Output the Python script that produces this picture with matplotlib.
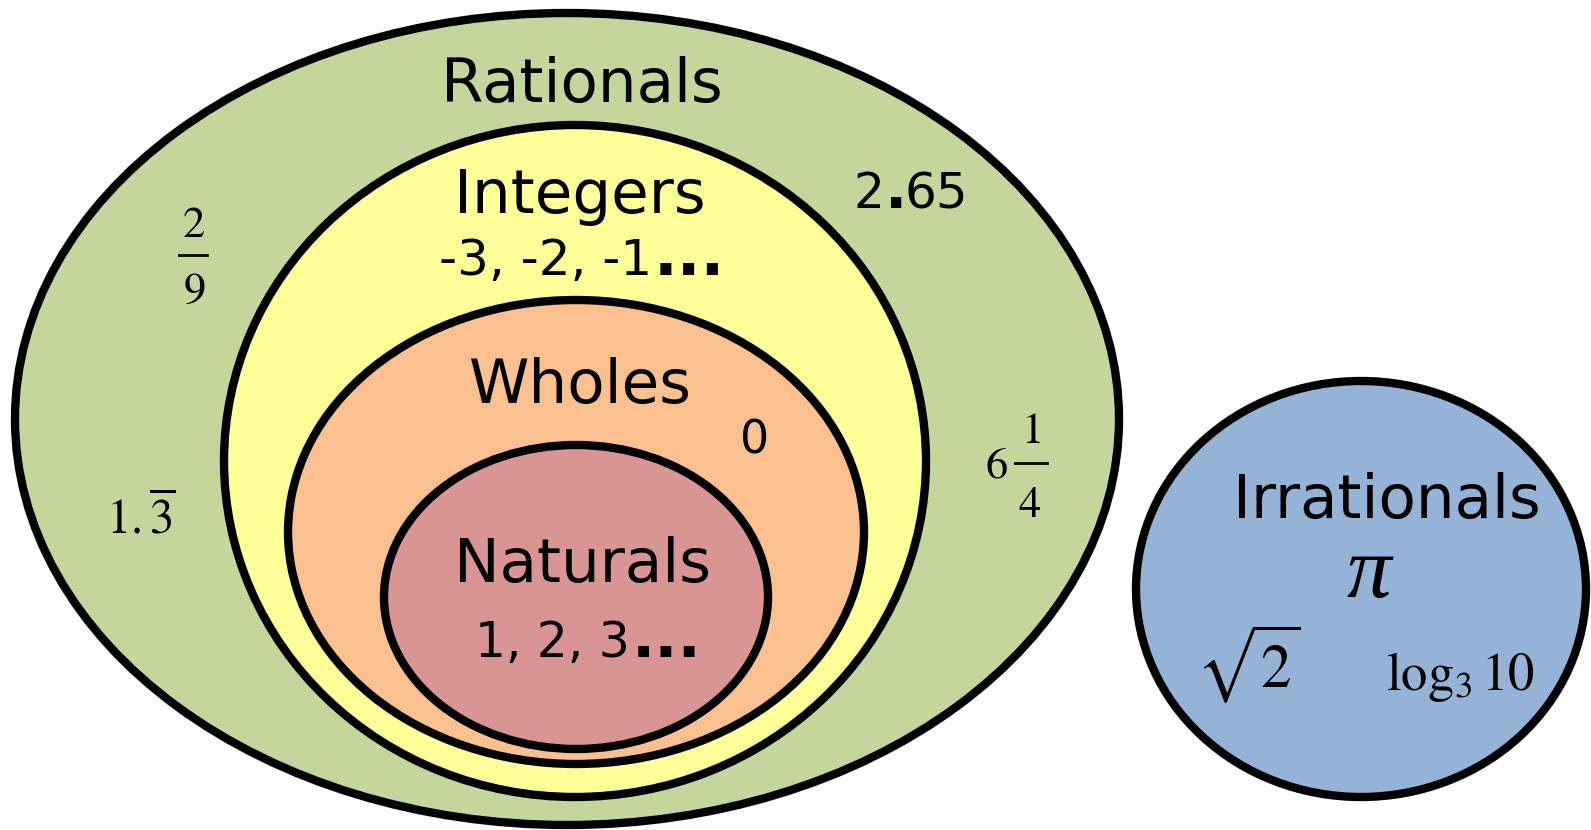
import matplotlib
matplotlib.use("Agg")
import matplotlib.pyplot as plt
from matplotlib.patches import Ellipse

# sets, drawn outermost first
set_names = ["Rationals", "Integers", "Wholes", "Naturals", "Irrationals"]
set_colors = ["#C3D69B", "#FFFF99", "#FAC090", "#D99594", "#95B3D7"]

# member examples written in each set
integer_examples = "-3, -2, -1"
natural_examples = "1, 2, 3"
whole_example = "0"
rational_decimal = ("2", ".", "65")
rational_repeating = r"$1.\overline{3}$"
rational_fraction = ("2", "9")
rational_mixed = ("6", "1", "4")
irrational_examples = ["π", r"$\sqrt{2}$", r"$\log_3 10$"]

# layout in pixel coordinates of the 1591x830 picture
W, H = 1591, 830
ellipse_geom = [
    (567, 419, 1104, 812),
    (575, 461, 702, 672),
    (576, 532, 576, 464),
    (576, 597, 384, 304),
    (1361, 589, 450, 416),
]
name_pos = [(582, 102), (580, 213), (580, 403), (583, 582), (1387, 518)]

fig = plt.figure(figsize=(W / 100, H / 100), dpi=100)
ax = fig.add_axes([0, 0, 1, 1])
ax.set_xlim(0, W)
ax.set_ylim(H, 0)
ax.axis("off")

for (cx, cy, w, h), color in zip(ellipse_geom, set_colors):
    ax.add_patch(Ellipse((cx, cy), w, h, facecolor=color, edgecolor="black", linewidth=6))

sans = dict(family="DejaVu Sans", color="black", va="baseline")
serif = dict(math_fontfamily="stix", color="black", ha="center", va="baseline")

for name, (x, y) in zip(set_names, name_pos):
    ax.text(x, y, name, fontsize=44, ha="center", **sans)

# member lists end with big bold dots
ax.text(652, 275, integer_examples, fontsize=36, ha="right", **sans)
ax.text(654, 275, "...", fontsize=45, weight="bold", ha="left", **sans)
ax.text(630, 657, natural_examples, fontsize=35, ha="right", **sans)
ax.text(632, 657, "...", fontsize=44, weight="bold", ha="left", **sans)
ax.text(755, 453, whole_example, fontsize=33, ha="center", **sans)

# 2.65 with a heavy decimal point
ax.text(884, 208, rational_decimal[0], fontsize=35, ha="right", **sans)
ax.text(896, 208, rational_decimal[1], fontsize=42, weight="bold", ha="center", **sans)
ax.text(905, 208, rational_decimal[2], fontsize=36, ha="left", **sans)

# 2/9
ax.text(194, 237, "$%s$" % rational_fraction[0], fontsize=32, **serif)
ax.plot([179, 207], [255, 255], color="black", linewidth=2)
ax.text(194, 303, "$%s$" % rational_fraction[1], fontsize=32, **serif)

ax.text(141, 533, rational_repeating, fontsize=35, **serif)

# 6 1/4
ax.text(996, 477, "$%s$" % rational_mixed[0], fontsize=32, **serif)
ax.text(1031, 443, "$%s$" % rational_mixed[1], fontsize=32, **serif)
ax.plot([1015, 1047], [463, 463], color="black", linewidth=2)
ax.text(1030, 517, "$%s$" % rational_mixed[2], fontsize=32, **serif)

ax.text(1369, 597, irrational_examples[0], fontsize=64, family="Liberation Serif",
        style="italic", color="black", ha="center", va="baseline")
ax.text(1248, 664, irrational_examples[1], fontsize=44, math_fontfamily="stix",
        color="black", ha="center", va="center")
ax.text(1460, 690, irrational_examples[2], fontsize=38, **serif)

fig.savefig("out.png", dpi=100)
